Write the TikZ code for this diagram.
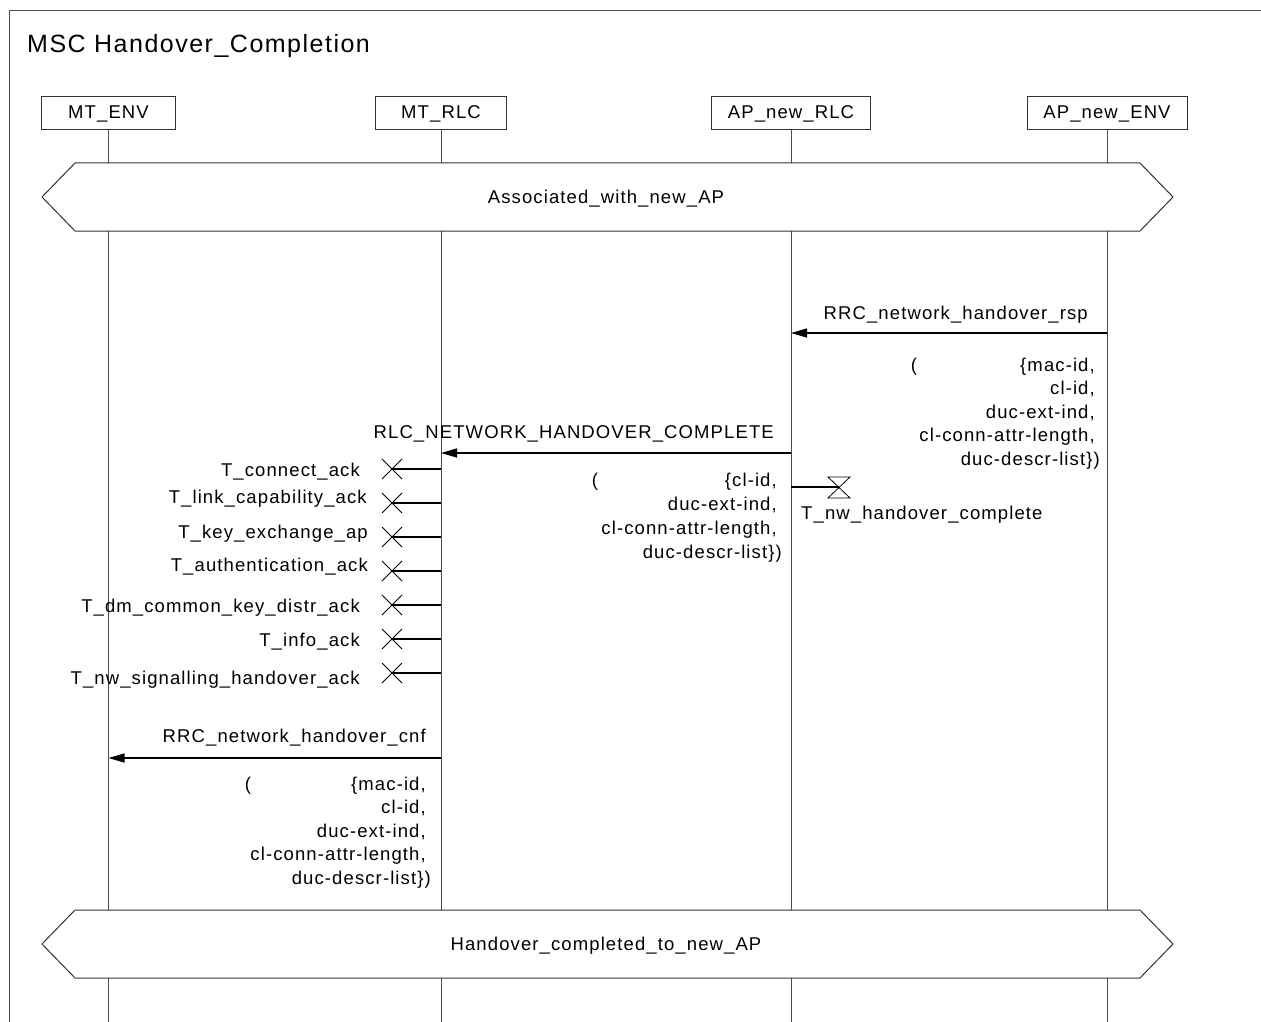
\documentclass[tikz,border=0pt]{standalone}
\usepackage{fontspec}
\setmainfont{Liberation Sans}[LetterSpace=6]
\usetikzlibrary{arrows.meta}
\tikzset{
  txt/.style={inner sep=0pt, font=\fontsize{18.5}{22}\selectfont},
  ttl/.style={inner sep=0pt, font=\fontsize{25}{28}\selectfont},
  hdr/.style={draw=black!80, line width=1pt, minimum height=33pt, inner sep=0pt, font=\fontsize{18.5}{22}\selectfont},
  life/.style={draw=black!70, line width=1pt},
  msg/.style={draw=black, line width=1.2pt, -{Triangle[length=16pt,width=9pt]}},
  tline/.style={draw=black, line width=1.2pt},
  tsym/.style={draw=black, line width=0.8pt},
  cond/.style={draw=black!80, line width=1pt},
  framestyle/.style={draw=black!70, line width=1pt}
}
\begin{document}
\begin{tikzpicture}[x=1pt,y=-1pt]
\useasboundingbox (0,0) rectangle (1261,1022);
% frame
\draw[framestyle] (1261,11) -- (9,11) -- (9,1022);
\node[ttl, anchor=base west] (title) at (27,53) {MSC Handover\_Completion};
% instance heads
\node[hdr, minimum width=134pt] (henv) at (108.5,113.5) {MT\_ENV};
\node[hdr, minimum width=131pt] (hrlc) at (441,113.5) {MT\_RLC};
\node[hdr, minimum width=159pt] (hap)  at (791,113.5) {AP\_new\_RLC};
\node[hdr, minimum width=160pt] (hape) at (1107,113.5) {AP\_new\_ENV};
% lifelines
\foreach \n/\x in {a/108.5,b/441,c/791,d/1107}{
  \coordinate (\n1) at (\x,163);
  \coordinate (\n2) at (\x,231);
  \coordinate (\n3) at (\x,910);
  \coordinate (\n4) at (\x,978);
  \coordinate (\n5) at (\x,1022);
  \draw[life] (\n2) -- (\n3);
  \draw[life] (\n4) -- (\n5);
}
\draw[life] (henv.south) -- (a1);
\draw[life] (hrlc.south) -- (b1);
\draw[life] (hap.south) -- (c1);
\draw[life] (hape.south) -- (d1);
% conditions
\draw[cond] (75,163) -- (1140,163) -- (1173,197) -- (1140,231) -- (75,231) -- (42,197) -- cycle;
\node[txt, anchor=base] (c1lbl) at (606,203) {Associated\_with\_new\_AP};
\draw[cond] (75,910) -- (1140,910) -- (1173,944) -- (1140,978) -- (75,978) -- (42,944) -- cycle;
\node[txt, anchor=base] (c2lbl) at (606,950) {Handover\_completed\_to\_new\_AP};
% message 1
\coordinate (m1s) at (1107,333);
\coordinate (m1e) at (791,333);
\draw[msg] (m1s) -- (m1e);
\node[txt, anchor=base east] (m1l) at (1088,319.5) {RRC\_network\_handover\_rsp};
\node[txt, anchor=base] (m1p) at (914,371) {(};
\node[txt, anchor=base east] (m1a) at (1095,371) {\{mac-id,};
\node[txt, anchor=base east] (m1b) at (1095,394.5) {cl-id,};
\node[txt, anchor=base east] (m1c) at (1095,418) {duc-ext-ind,};
\node[txt, anchor=base east] (m1d) at (1095,441.5) {cl-conn-attr-length,};
\node[txt, anchor=base east] (m1f) at (1100,465) {duc-descr-list\})};
% message 2
\coordinate (m2s) at (791,453);
\coordinate (m2e) at (441,453);
\draw[msg] (m2s) -- (m2e);
\node[txt, anchor=base east] (m2l) at (774,438.5) {RLC\_NETWORK\_HANDOVER\_COMPLETE};
\node[txt, anchor=base] (m2p) at (595,486) {(};
\node[txt, anchor=base east] (m2a) at (777,486) {\{cl-id,};
\node[txt, anchor=base east] (m2b) at (777,510) {duc-ext-ind,};
\node[txt, anchor=base east] (m2c) at (777,534) {cl-conn-attr-length,};
\node[txt, anchor=base east] (m2d) at (782,558) {duc-descr-list\})};
% timer set on AP_new_RLC
\coordinate (tss) at (791,487);
\coordinate (tsc) at (839,487);
\draw[tline] (tss) -- (tsc);
\draw[tsym] (828,477) -- (850,477) -- (828,498) -- (850,498) -- cycle;
\node[txt, anchor=base west] (tsl) at (801,519) {T\_nw\_handover\_complete};
% timer resets on MT_RLC
\foreach \k/\y/\lx/\ly/\t in {
  1/469/360/476/T\_connect\_ack,
  2/503/367/503/T\_link\_capability\_ack,
  3/537/368/538/T\_key\_exchange\_ap,
  4/571/368/571/T\_authentication\_ack,
  5/605/360/612/T\_dm\_common\_key\_distr\_ack,
  6/639/360/646/T\_info\_ack,
  7/673/360/684/T\_nw\_signalling\_handover\_ack}{
  \coordinate (r\k) at (441,\y);
  \coordinate (x\k) at (392,\y);
  \draw[tline] (r\k) -- (x\k);
  \draw[tsym] (x\k) ++(-10,-10) -- ++(20,20);
  \draw[tsym] (x\k) ++(-10,10) -- ++(20,-20);
  \node[txt, anchor=base east] (tl\k) at (\lx,\ly) {\t};
}
% message 3
\coordinate (m3s) at (441,758);
\coordinate (m3e) at (108.5,758);
\draw[msg] (m3s) -- (m3e);
\node[txt, anchor=base east] (m3l) at (426,742.5) {RRC\_network\_handover\_cnf};
\node[txt, anchor=base] (m3p) at (248,790) {(};
\node[txt, anchor=base east] (m3a) at (426,790) {\{mac-id,};
\node[txt, anchor=base east] (m3b) at (426,813.5) {cl-id,};
\node[txt, anchor=base east] (m3c) at (426,837) {duc-ext-ind,};
\node[txt, anchor=base east] (m3d) at (426,860.5) {cl-conn-attr-length,};
\node[txt, anchor=base east] (m3f) at (431,884) {duc-descr-list\})};
\end{tikzpicture}
\end{document}
